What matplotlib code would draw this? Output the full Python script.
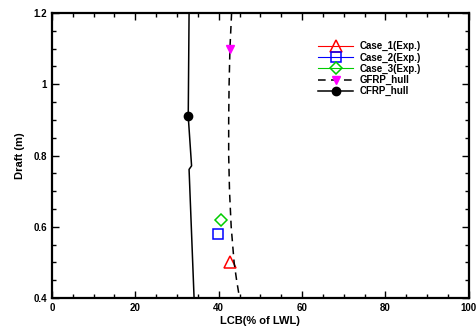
from matplotlib import pyplot as plt
from matplotlib.ticker import MultipleLocator, FormatStrFormatter
import numpy as np

# experimental cases (LCB %, draft m)
case1_lcb = [42.8]
case1_draft = [0.50]
case2_lcb = [39.9]
case2_draft = [0.58]
case3_lcb = [40.5]
case3_draft = [0.62]

# GFRP hull curve
gfrp_draft = [1.2, 1.1, 1.0, 0.9, 0.8, 0.7, 0.6, 0.5, 0.45, 0.4]
gfrp_lcb = [43.1, 42.7, 42.5, 42.4, 42.4, 42.6, 43.0, 43.7, 44.3, 45.0]

# CFRP hull curve
cfrp_draft = [1.2, 0.91, 0.771, 0.761, 0.4]
cfrp_lcb = [32.9, 32.7, 33.5, 32.9, 34.1]

plt.rcParams['font.family'] = ['Liberation Sans', 'DejaVu Sans']
plt.rcParams['font.weight'] = 'bold'

fig = plt.figure(figsize=(4.76, 3.31), dpi=100)
ax = fig.add_axes([0.109, 0.0997, 0.876, 0.861])

ax.plot(case1_lcb, case1_draft, '-', color='red', lw=0.8, marker='^', ms=8,
        mfc='none', mec='red', mew=1.1, label='Case_1(Exp.)')
ax.plot(case2_lcb, case2_draft, '-', color='blue', lw=0.8, marker='s', ms=6.5,
        mfc='none', mec='blue', mew=1.1, label='Case_2(Exp.)')
ax.plot(case3_lcb, case3_draft, '-', color='#00cc00', lw=0.8, marker='D', ms=6.5,
        mfc='none', mec='#00cc00', mew=1.1, label='Case_3(Exp.)')
ax.plot(gfrp_lcb, gfrp_draft, '--', color='black', lw=1.1, dashes=(5, 3.5),
        marker='v', ms=6, mfc='magenta', mec='magenta', markevery=[1],
        label='GFRP_hull')
ax.plot(cfrp_lcb, cfrp_draft, '-', color='black', lw=1.1,
        marker='o', ms=6, mfc='black', mec='black', markevery=[1],
        label='CFRP_hull')

ax.set_xlim(0, 100)
ax.set_ylim(0.4, 1.2)
ax.xaxis.set_major_locator(MultipleLocator(20))
ax.xaxis.set_minor_locator(MultipleLocator(5))
ax.yaxis.set_major_locator(MultipleLocator(0.2))
ax.yaxis.set_minor_locator(MultipleLocator(0.05))
ax.yaxis.set_major_formatter(FormatStrFormatter('%g'))
ax.tick_params(which='both', direction='in', top=True, right=True,
               labelsize=7, width=1)
ax.tick_params(which='major', length=5)
ax.tick_params(which='minor', length=3)
for lab in ax.get_xticklabels() + ax.get_yticklabels():
    lab.set_fontweight('bold')
for s in ax.spines.values():
    s.set_linewidth(1.6)

ax.set_xlabel('LCB(% of LWL)', fontsize=8, fontweight='bold', labelpad=2)
ax.set_ylabel('Draft (m)', fontsize=8, fontweight='bold', labelpad=6)

leg = ax.legend(loc='upper left', bbox_to_anchor=(0.63, 0.915), frameon=False,
                fontsize=7, handlelength=3.6, handletextpad=0.6,
                labelspacing=0.12, borderaxespad=0, markerscale=1.0)
for t in leg.get_texts():
    t.set_fontweight('bold')

fig.savefig('out.png', dpi=100)
